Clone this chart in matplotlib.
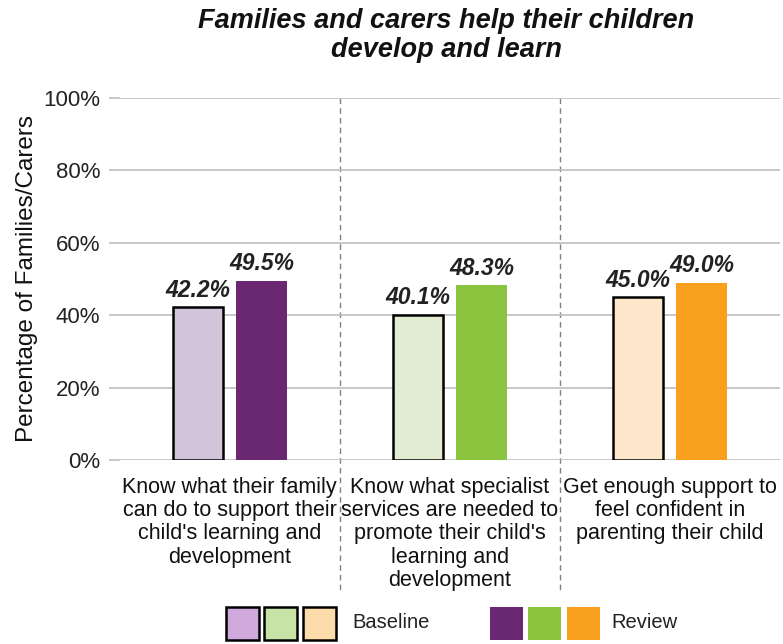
import matplotlib.pyplot as plt
from matplotlib.patches import Rectangle
import numpy as np

plt.rcParams['font.family'] = ['Liberation Sans', 'DejaVu Sans']

categories = [
    "Know what their family\ncan do to support their\nchild's learning and\ndevelopment",
    "Know what specialist\nservices are needed to\npromote their child's\nlearning and\ndevelopment",
    "Get enough support to\nfeel confident in\nparenting their child",
]
baseline = [42.2, 40.1, 45.0]
review = [49.5, 48.3, 49.0]
baseline_colors = ["#D3C4DA", "#E2ECD3", "#FDE6CA"]
review_colors = ["#6A2873", "#8BC540", "#F9A11F"]
legend_base_colors = ["#CFA8DC", "#C8E3A6", "#FDDCAB"]
yticks = [0, 20, 40, 60, 80, 100]

fig = plt.figure(figsize=(7.83, 6.44), dpi=100)
ax = fig.add_axes([0.153, 0.2857, 0.843, 0.5622])

x = np.arange(len(categories))
w = 0.23
gap = 0.03
b1 = ax.bar(x - w / 2 - gap, baseline, w, color=baseline_colors, edgecolor="black", linewidth=1.8, zorder=3)
b2 = ax.bar(x + w / 2 + gap, review, w, color=review_colors, edgecolor="none", zorder=3)

for bars, vals in [(b1, baseline), (b2, review)]:
    for r, v in zip(bars, vals):
        ax.text(r.get_x() + r.get_width() / 2, v + 1.5, f"{v:.1f}%", ha="center", va="bottom",
                fontsize=16.5, fontweight="bold", fontstyle="italic", color="#222222")

ax.set_xlim(-0.5, 2.5)
ax.set_ylim(0, 100)
ax.set_yticks(yticks)
ax.set_yticklabels([f"{t}%" for t in yticks], fontsize=16, color="#222222")
ax.yaxis.grid(True, color="#BFBFBF", linewidth=1.2, zorder=0)
ax.tick_params(axis="y", length=8, color="#BFBFBF", width=1.2, pad=6)
ax.set_xticks(x)
ax.set_xticklabels(categories, fontsize=15.5, color="#111111", linespacing=1.15)
ax.tick_params(axis="x", length=0, pad=12)
for s in ax.spines.values():
    s.set_visible(False)

# dashed category separators running down through the label area
for xb in [0.5, 1.5]:
    ax.plot([xb, xb], [100, -36], color="#808080", linestyle=(0, (4, 3)), linewidth=1,
            clip_on=False, zorder=1)

ax.set_ylabel("Percentage of Families/Carers", fontsize=17.5, color="#111111", labelpad=4)

fig.text(0.57, 0.945, "Families and carers help their children\ndevelop and learn", ha="center", va="center",
         fontsize=19.5, fontweight="bold", fontstyle="italic", color="#111111", linespacing=1.15)

# legend
W, H = 783, 644
def box(px, color, edge):
    fig.patches.append(Rectangle((px / W, 1 - 640 / H), 33 / W, 33 / H, transform=fig.transFigure,
                                 facecolor=color, edgecolor="black" if edge else "none",
                                 linewidth=1.8 if edge else 0, figure=fig))

for px, c in zip([226, 264, 303], legend_base_colors):
    box(px, c, True)
for px, c in zip([490, 528, 567], review_colors):
    box(px, c, False)
fig.text(352 / W, 1 - 623 / H, "Baseline", fontsize=14.5, va="center", color="#222222")
fig.text(611 / W, 1 - 623 / H, "Review", fontsize=14.5, va="center", color="#222222")

fig.savefig("out.png", dpi=100)
